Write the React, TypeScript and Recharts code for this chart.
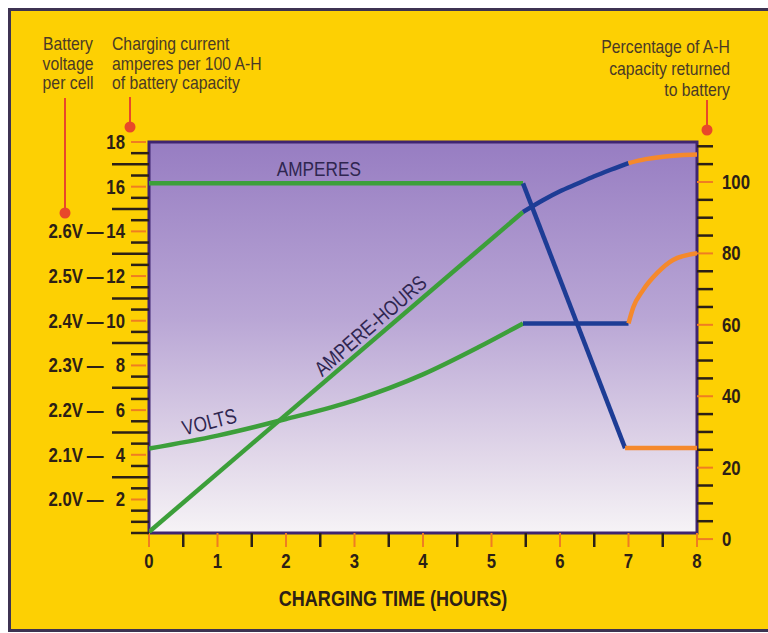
import React from 'react';
import { LineChart, Line, XAxis, YAxis, ReferenceArea, ReferenceDot, CartesianGrid } from 'recharts';

// ---- data (hours / values) ----
const AMP_BULK_HOURS = [0, 5.46];
const AMP_BULK = [16.15, 16.15];
const AMP_TAPER_HOURS = [5.46, 6.95];
const AMP_TAPER = [16.15, 4.3];
const AMP_FINISH_HOURS = [6.95, 8];
const AMP_FINISH = [4.3, 4.3];

const AH_BULK_HOURS = [0, 5.46];
const AH_BULK = [2, 91.6];
const AH_ABSORB_HOURS = [5.46, 5.75, 6, 6.25, 6.5, 6.75, 7];
const AH_ABSORB = [91.6, 94.9, 97.4, 99.5, 101.6, 103.5, 105.3];
const AH_FINISH_HOURS = [7, 7.25, 7.5, 7.75, 8];
const AH_FINISH = [105.3, 106.4, 107.1, 107.5, 107.7];

const VOLT_BULK_HOURS = [0, 1, 2, 3, 4, 4.8, 5.46];
const VOLT_BULK = [2.114, 2.143, 2.18, 2.222, 2.28, 2.34, 2.394];
const VOLT_HOLD_HOURS = [5.46, 7];
const VOLT_HOLD = [2.394, 2.394];
const VOLT_FINISH_HOURS = [7, 7.07, 7.21, 7.42, 7.65, 8];
const VOLT_FINISH = [2.394, 2.43, 2.468, 2.507, 2.536, 2.551];

// ---- ticks ----
const X_TICKS = [0, 0.5, 1, 1.5, 2, 2.5, 3, 3.5, 4, 4.5, 5, 5.5, 6, 6.5, 7, 7.5, 8];
const X_LABELS = [0, 1, 2, 3, 4, 5, 6, 7, 8];
const AMP_TICKS = [0.5, 1, 1.5, 2, 2.5, 3, 3.5, 4, 4.5, 5, 5.5, 6, 6.5, 7, 7.5, 8, 8.5, 9, 9.5, 10, 10.5, 11, 11.5, 12, 12.5, 13, 13.5, 14, 14.5, 15, 15.5, 16, 16.5, 17, 17.5, 18];
const AMP_LABELS = [2, 4, 6, 8, 10, 12, 14, 16, 18];
const AMP_LONG = [3, 5, 7, 9, 11, 13, 15, 17];
const VOLT_TICK_AMPS = [2, 4, 6, 8, 10, 12, 14];
const VOLT_TICK_LABELS = ['2.0V', '2.1V', '2.2V', '2.3V', '2.4V', '2.5V', '2.6V'];
const PCT_TICKS = [0, 5, 10, 15, 20, 25, 30, 35, 40, 45, 50, 55, 60, 65, 70, 75, 80, 85, 90, 95, 100, 105, 110];
const PCT_LABELS = [0, 20, 40, 60, 80, 100];

const pts = (hours: number[], vals: number[]) => hours.map((h, i) => ({ h, v: vals[i] }));

const YELLOW = '#fdd003';
const DARK = '#2c2016';
const TICK_ORANGE = '#ef7d22';
const GREEN = '#3c9f3a';
const BLUE = '#1d3c95';
const ORANGE = '#f5892c';
const FRAME = '#3f2470';
const LABEL_IN = '#2f2650';
const DOT = '#e8482a';
const HDR = '#4a3a26';
const FONT = "'Liberation Sans', Arial, sans-serif";

type NTProps = {
  x: number;
  y: number;
  anchor?: 'start' | 'middle' | 'end';
  size: number;
  bold?: boolean;
  fill: string;
  rotate?: number;
  central?: boolean;
  sx?: number;
  children: React.ReactNode;
};

// condensed text (horizontal squeeze of Liberation Sans)
const NT = ({ x, y, anchor = 'start', size, bold, fill, rotate = 0, central, sx = 0.82, children }: NTProps) => (
  <text
    transform={`translate(${x} ${y}) rotate(${rotate}) scale(${sx} 1)`}
    x={0}
    y={0}
    dy={central ? size * 0.36 : 0}
    textAnchor={anchor}
    fontFamily={FONT}
    fontSize={size}
    fontWeight={bold ? 'bold' : 'normal'}
    fill={fill}
  >
    {children}
  </text>
);

const TS = 19.5;
const TSX = 0.86;

const LeftTick = (props: any) => {
  const { x, y, payload } = props;
  const v = payload.value;
  const major = AMP_LABELS.includes(v);
  const long = AMP_LONG.includes(v);
  const len = long ? 37 : 18;
  const vi = VOLT_TICK_AMPS.indexOf(v);
  return (
    <g>
      <line x1={x - len} x2={x - (major ? 3 : 0)} y1={y} y2={y} stroke={major ? TICK_ORANGE : DARK} strokeWidth={major ? 2 : 2.5} />
      {major && (
        <NT x={x - 24} y={y + 7} anchor="end" size={TS} sx={TSX} bold fill={DARK}>
          {v}
        </NT>
      )}
      {vi >= 0 && (
        <>
          <NT x={x - 66} y={y + 7} anchor="end" size={TS} sx={TSX} bold fill={DARK}>
            {VOLT_TICK_LABELS[vi]}
          </NT>
          <NT x={x - 54} y={y + 7} anchor="middle" size={TS} sx={TSX} bold fill={DARK}>
            —
          </NT>
        </>
      )}
    </g>
  );
};

const RightTick = (props: any) => {
  const { x, y, payload } = props;
  const v = payload.value;
  const major = PCT_LABELS.includes(v);
  return (
    <g>
      <line x1={x} x2={x + 16} y1={y} y2={y} stroke={major ? TICK_ORANGE : DARK} strokeWidth={major ? 2 : 2.5} />
      {major && (
        <NT x={x + 25} y={y + 7} anchor="start" size={TS} sx={TSX} bold fill={DARK}>
          {v}
        </NT>
      )}
    </g>
  );
};

const BottomTick = (props: any) => {
  const { x, y, payload } = props;
  const v = payload.value;
  const major = X_LABELS.includes(v);
  return (
    <g>
      <line x1={x} x2={x} y1={y} y2={y + 14} stroke={major ? TICK_ORANGE : DARK} strokeWidth={major ? 2 : 2.5} />
      {major && (
        <NT x={x} y={y + 35} anchor="middle" size={TS} sx={TSX} bold fill={DARK}>
          {v}
        </NT>
      )}
    </g>
  );
};

const inLabel = (text: string, angle: number) => (p: any) => (
  <NT x={p.cx} y={p.cy} rotate={angle} anchor="middle" central size={21} fill={LABEL_IN}>
    {text}
  </NT>
);

export default function App() {
  return (
    <div
      style={{
        position: 'absolute',
        left: 8,
        top: 8,
        width: 760,
        height: 624,
        background: YELLOW,
        boxSizing: 'border-box',
        borderLeft: '3px solid #3d3352',
        borderTop: '3px solid #3d3352',
        borderBottom: '3px solid #3d3352',
        overflow: 'hidden',
      }}
    >
      <div style={{ position: 'absolute', left: -3, top: -3 }}>
        <LineChart width={760} height={624} margin={{ top: 134, right: 11, bottom: 49, left: 41 }}>
          <defs>
            <linearGradient id="plotBg" x1="0" y1="0" x2="0" y2="1">
              <stop offset="0%" stopColor="#977dc2" />
              <stop offset="45%" stopColor="#b9a6d5" />
              <stop offset="80%" stopColor="#e1d7e9" />
              <stop offset="100%" stopColor="#f6f3f6" />
            </linearGradient>
          </defs>
          <CartesianGrid horizontal={false} vertical={false} fill="url(#plotBg)" yAxisId="left" />
          <XAxis
            dataKey="h"
            type="number"
            domain={[0, 8]}
            ticks={X_TICKS}
            interval={0}
            tick={BottomTick}
            tickLine={false}
            tickSize={0}
            tickMargin={0}
            axisLine={false}
            height={50}
            allowDataOverflow
          />
          <YAxis
            yAxisId="left"
            orientation="left"
            type="number"
            domain={[0.5, 18]}
            ticks={AMP_TICKS}
            interval={0}
            tick={LeftTick}
            tickLine={false}
            tickSize={0}
            tickMargin={0}
            axisLine={false}
            width={100}
            allowDataOverflow
          />
          <YAxis
            yAxisId="right"
            orientation="right"
            type="number"
            domain={[1.7, 111.2]}
            ticks={PCT_TICKS}
            interval={0}
            tick={RightTick}
            tickLine={false}
            tickSize={0}
            tickMargin={0}
            axisLine={false}
            width={60}
            allowDataOverflow
          />
          <YAxis yAxisId="volts" type="number" domain={[1.925, 2.8]} hide allowDataOverflow />
          <ReferenceArea
            yAxisId="left"
            x1={0}
            x2={8}
            y1={0.5}
            y2={18}
            fill="none"
            fillOpacity={0}
            stroke={FRAME}
            strokeWidth={3}
          />

          <Line yAxisId="volts" data={pts(VOLT_BULK_HOURS, VOLT_BULK)} dataKey="v" type="monotone" stroke={GREEN} strokeWidth={4.5} dot={false} isAnimationActive={false} />
          <Line yAxisId="volts" data={pts(VOLT_HOLD_HOURS, VOLT_HOLD)} dataKey="v" type="linear" stroke={BLUE} strokeWidth={4.5} dot={false} isAnimationActive={false} />
          <Line yAxisId="volts" data={pts(VOLT_FINISH_HOURS, VOLT_FINISH)} dataKey="v" type="monotone" stroke={ORANGE} strokeWidth={4.5} dot={false} isAnimationActive={false} />

          <Line yAxisId="right" data={pts(AH_BULK_HOURS, AH_BULK)} dataKey="v" type="linear" stroke={GREEN} strokeWidth={4.5} dot={false} isAnimationActive={false} />
          <Line yAxisId="right" data={pts(AH_ABSORB_HOURS, AH_ABSORB)} dataKey="v" type="monotone" stroke={BLUE} strokeWidth={4.5} dot={false} isAnimationActive={false} />
          <Line yAxisId="right" data={pts(AH_FINISH_HOURS, AH_FINISH)} dataKey="v" type="monotone" stroke={ORANGE} strokeWidth={4.5} dot={false} isAnimationActive={false} />

          <Line yAxisId="left" data={pts(AMP_BULK_HOURS, AMP_BULK)} dataKey="v" type="linear" stroke={GREEN} strokeWidth={4.5} dot={false} isAnimationActive={false} />
          <Line yAxisId="left" data={pts(AMP_TAPER_HOURS, AMP_TAPER)} dataKey="v" type="linear" stroke={BLUE} strokeWidth={4.5} dot={false} isAnimationActive={false} />
          <Line yAxisId="left" data={pts(AMP_FINISH_HOURS, AMP_FINISH)} dataKey="v" type="linear" stroke={ORANGE} strokeWidth={4.5} dot={false} isAnimationActive={false} />

          <ReferenceDot yAxisId="left" x={2.48} y={16.83} r={0} shape={inLabel('AMPERES', 0)} />
          <ReferenceDot yAxisId="left" x={3.23} y={9.79} r={0} shape={inLabel('AMPERE-HOURS', -41)} />
          <ReferenceDot yAxisId="left" x={0.88} y={5.49} r={0} shape={inLabel('VOLTS', -14)} />
        </LineChart>
      </div>
      <svg width={760} height={624} style={{ position: 'absolute', left: -3, top: -3, pointerEvents: 'none' }}>
        <NT x={60} y={42} anchor="middle" size={19} sx={0.83} fill={HDR}>Battery</NT>
        <NT x={60} y={62} anchor="middle" size={19} sx={0.83} fill={HDR}>voltage</NT>
        <NT x={60} y={81} anchor="middle" size={19} sx={0.83} fill={HDR}>per cell</NT>
        <NT x={104} y={42} size={19} sx={0.83} fill={HDR}>Charging current</NT>
        <NT x={104} y={62} size={19} sx={0.83} fill={HDR}>amperes per 100 A-H</NT>
        <NT x={104} y={81} size={19} sx={0.83} fill={HDR}>of battery capacity</NT>
        <NT x={722} y={45} anchor="end" size={19} sx={0.83} fill={HDR}>Percentage of A-H</NT>
        <NT x={722} y={67} anchor="end" size={19} sx={0.83} fill={HDR}>capacity returned</NT>
        <NT x={722} y={88} anchor="end" size={19} sx={0.83} fill={HDR}>to battery</NT>
        <line x1={57} x2={57} y1={90} y2={205} stroke={DOT} strokeWidth={2} />
        <circle cx={57} cy={205} r={5.5} fill={DOT} />
        <line x1={122} x2={122} y1={89} y2={119} stroke={DOT} strokeWidth={2} />
        <circle cx={122} cy={119} r={5.5} fill={DOT} />
        <line x1={699} x2={699} y1={92} y2={122} stroke={DOT} strokeWidth={2} />
        <circle cx={699} cy={122} r={5.5} fill={DOT} />
        <NT x={385} y={598} anchor="middle" size={22} bold fill={DARK}>
          CHARGING TIME (HOURS)
        </NT>
      </svg>
    </div>
  );
}
